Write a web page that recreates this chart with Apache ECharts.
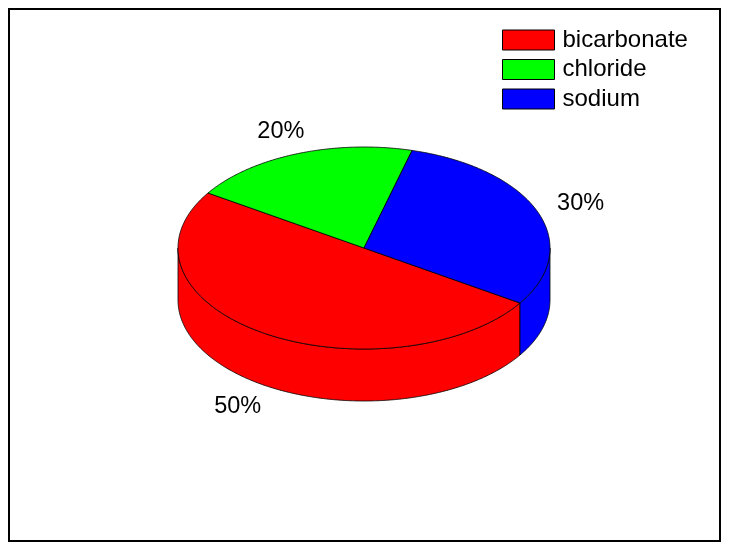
<!DOCTYPE html>
<html>
<head>
<meta charset="utf-8">
<style>
  html, body { margin: 0; padding: 0; background: #fff; }
  #chart { width: 729px; height: 547px; }
</style>
<script src="https://cdn.jsdelivr.net/npm/echarts@6/dist/echarts.min.js"></script>
</head>
<body>
<div id="chart"></div>
<script>
var categories = ['bicarbonate', 'chloride', 'sodium'];
var percents = [50, 20, 30];
var colors = ['#ff0000', '#00ff00', '#0000ff'];
// slices run counter-clockwise from the start angle in this order
var sweepOrder = [0, 2, 1];

var startAngle = 147;
var cx = 364, cy = 248, rx = 186, ry = 101, depth = 52;
var labelRx = 232, labelRy = 125, labelDrop = 54;
var fontName = '"Liberation Sans", Arial, sans-serif';

var chart = echarts.init(document.getElementById('chart'));

// start of each slice, in degrees, from the values
var sliceStart = [];
var total = percents.reduce(function (a, b) { return a + b; }, 0);
var acc = startAngle;
sweepOrder.forEach(function (idx) {
    sliceStart[idx] = acc;
    acc += percents[idx] / total * 360;
});

function rimPoint(deg, dy) {
    var a = deg * Math.PI / 180;
    return [cx + rx * Math.cos(a), cy - ry * Math.sin(a) + (dy || 0)];
}

function arcPoints(from, to, dy) {
    var pts = [];
    var n = Math.max(2, Math.ceil(Math.abs(to - from) * 2));
    for (var i = 0; i <= n; i++) {
        pts.push(rimPoint(from + (to - from) * i / n, dy));
    }
    return pts;
}

// the part of a slice's rim that faces the viewer (180..360 degrees, and wrapped)
function frontRange(from, to) {
    var ranges = [[180, 360], [540, 720]];
    for (var i = 0; i < ranges.length; i++) {
        var lo = Math.max(from, ranges[i][0]);
        var hi = Math.min(to, ranges[i][1]);
        if (hi > lo) return [lo, hi];
    }
    return null;
}

function makeRender(idx) {
    return function (params, api) {
        var sweep = api.value(0) / total * 360;
        var from = sliceStart[idx], to = from + sweep;
        var style = { fill: colors[idx], stroke: '#000', lineWidth: 0.8 };
        var children = [];

        var front = frontRange(from, to);
        if (front) {
            var wall = arcPoints(front[0], front[1], 0)
                .concat(arcPoints(front[1], front[0], depth));
            children.push({ type: 'polygon', shape: { points: wall }, style: style });
        }

        var top = [[cx, cy]].concat(arcPoints(from, to, 0));
        children.push({ type: 'polygon', shape: { points: top }, style: style });

        var mid = (from + to) / 2 * Math.PI / 180;
        var sin = Math.sin(mid);
        children.push({
            type: 'text',
            style: {
                x: cx + labelRx * Math.cos(mid),
                y: cy - labelRy * sin + (sin < 0 ? labelDrop : 0),
                text: api.value(0) + '%',
                fill: '#000',
                font: '23.5px ' + fontName,
                align: 'center',
                verticalAlign: 'middle'
            }
        });
        return { type: 'group', children: children };
    };
}

chart.setOption({
    animation: false,
    backgroundColor: '#fff',
    legend: {
        data: categories,
        orient: 'vertical',
        left: 502,
        top: 28,
        icon: 'rect',
        itemWidth: 52,
        itemHeight: 20,
        itemGap: 5.5,
        selectedMode: false,
        padding: 0,
        itemStyle: { borderColor: '#000', borderWidth: 1 },
        textStyle: {
            color: '#000',
            fontFamily: fontName,
            fontSize: 24,
            lineHeight: 20,
            padding: [0, 0, 0, 3]
        }
    },
    graphic: [{
        type: 'rect',
        silent: true,
        shape: { x: 9, y: 9, width: 711, height: 532 },
        style: { fill: 'none', stroke: '#000', lineWidth: 2 }
    }],
    series: categories.map(function (name, idx) {
        return {
            name: name,
            type: 'custom',
            coordinateSystem: 'none',
            silent: true,
            itemStyle: { color: colors[idx] },
            renderItem: makeRender(idx),
            data: [[percents[idx]]]
        };
    })
});
</script>
</body>
</html>
